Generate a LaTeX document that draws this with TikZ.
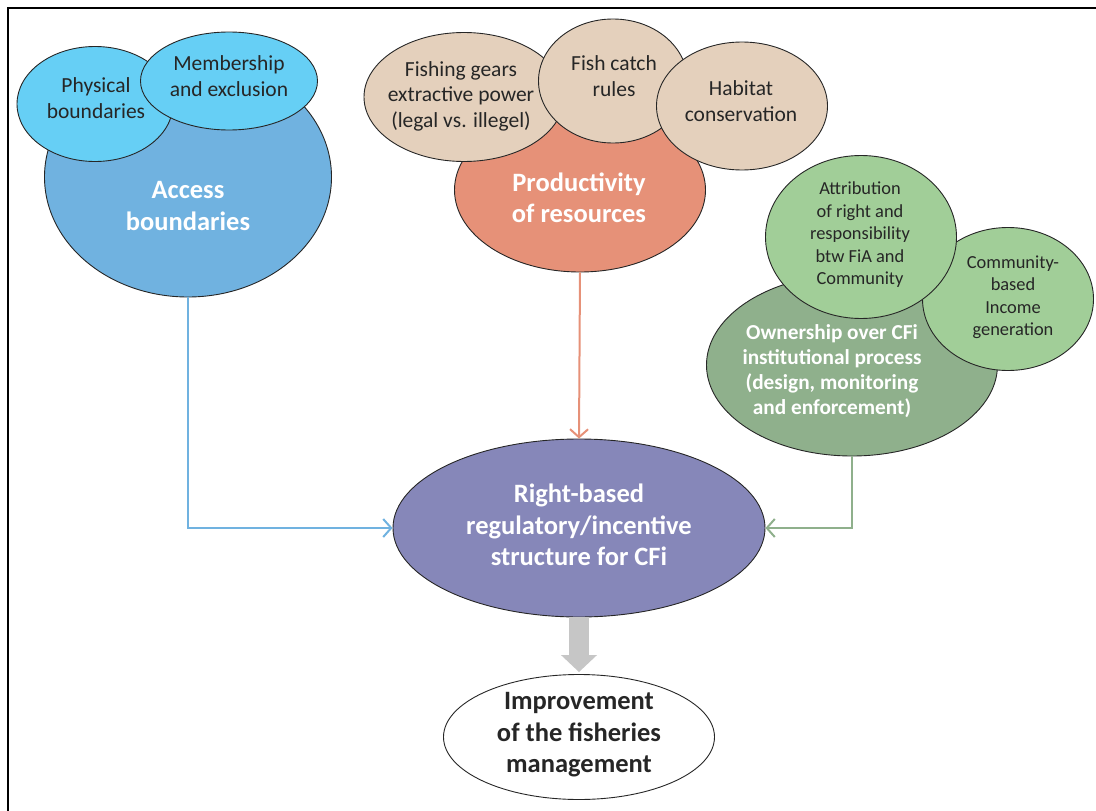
\documentclass[tikz,border=0pt]{standalone}
\usepackage{fontspec}
\setmainfont{Carlito}
\usetikzlibrary{shapes.geometric, arrows.meta, calc}

\definecolor{accblue}{RGB}{112,178,224}
\definecolor{skyblue}{RGB}{102,207,245}
\definecolor{prodorange}{RGB}{230,145,120}
\definecolor{tan}{RGB}{228,208,188}
\definecolor{darkgreen}{RGB}{143,176,140}
\definecolor{lightgreen}{RGB}{161,206,152}
\definecolor{purple}{RGB}{134,135,185}
\definecolor{darktext}{RGB}{38,38,38}
\definecolor{arrowgray}{RGB}{198,198,198}

\tikzset{
  ell/.style={ellipse, draw=black!85, line width=0.9pt, inner sep=0pt},
  smalltxt/.style={align=center, text=darktext, font=\fontsize{21.5}{25.5}\selectfont},
  tinytxt/.style={align=center, text=darktext, font=\fontsize{18.4}{22.5}\selectfont},
  bigtxt/.style={align=center, text=white, font=\fontsize{26.5}{31.5}\selectfont\bfseries},
  midtxt/.style={align=center, text=white, font=\fontsize{21.3}{25}\selectfont\bfseries},
  link/.style={line width=2pt, -{Straight Barb[length=8pt,width=18pt]}}
}

\begin{document}
\begin{tikzpicture}[x=1pt,y=-1pt]
\useasboundingbox (0,0) rectangle (1096,811);

% frame
\draw[line width=2.8pt] (8,830) -- (8,8) -- (1110,8);

% access boundaries
\node[ell, fill=accblue, minimum width=287, minimum height=240] (access) at (188,177) {};
\node[ell, fill=skyblue, minimum width=156, minimum height=115] (phys) at (95,104) {};
\node[ell, fill=skyblue, minimum width=177, minimum height=98] (member) at (229,81) {};
\node[bigtxt] (acctxt) at (188,206) {Access\\boundaries};
\node[smalltxt] (phystxt) at (96,98) {Physical\\boundaries};
\node[smalltxt] (membertxt) at (229,76) {Membership\\and exclusion};

% productivity of resources
\node[ell, fill=prodorange, minimum width=251, minimum height=164] (prod) at (580,190) {};
\node[ell, fill=tan, minimum width=200, minimum height=129] (gears) at (464,97) {};
\node[ell, fill=tan, minimum width=149, minimum height=124] (catch) at (613,81) {};
\node[ell, fill=tan, minimum width=171, minimum height=128] (habitat) at (742,106) {};
\node[bigtxt] (prodtxt) at (579,198) {Productivity\\of resources};
\node[smalltxt] (gearstxt) at (461,96) {Fishing gears\\extractive power\\(legal vs. illegel)};
\node[smalltxt] (catchtxt) at (614,76) {Fish catch\\rules};
\node[smalltxt] (habitattxt) at (741,101) {Habitat\\conservation};

% ownership
\node[ell, fill=darkgreen, minimum width=291, minimum height=182] (owner) at (852,365) {};
\node[ell, fill=lightgreen, minimum width=171, minimum height=143] (income) at (1008,299) {};
\node[ell, fill=lightgreen, minimum width=191, minimum height=163] (attrib) at (861,237) {};
\node[midtxt] (ownertxt) at (832,371) {Ownership over CFi\\institutional process\\(design, monitoring\\and enforcement)};
\node[tinytxt] (incometxt) at (1013,297) {Community-\\based\\Income\\generation};
\node[tinytxt] (attribtxt) at (860,235) {Attribution\\of right and\\responsibility\\btw FiA and\\Community};

% right-based structure and result
\node[ell, fill=purple, minimum width=372, minimum height=178] (rights) at (579,528) {};
\node[bigtxt] (rightstxt) at (579,525) {Right-based\\regulatory/incentive\\structure for CFi};
\node[ell, fill=white, minimum width=271, minimum height=125] (impr) at (579,737) {};
\node[bigtxt, text=darktext] (imprtxt) at (579,735) {Improvement\\of the fisheries\\management};

% connectors
\draw[link, accblue] (access.south) |- (rights.west);
\draw[link, prodorange] (prod.south) -- (rights.north);
\draw[link, darkgreen] (owner.south) |- (rights.east);
\draw[arrowgray, line width=20pt, -{Triangle[length=17pt,width=35pt]}] (rights.south) -- ($(impr.north)+(0,-2)$);

\end{tikzpicture}
\end{document}
